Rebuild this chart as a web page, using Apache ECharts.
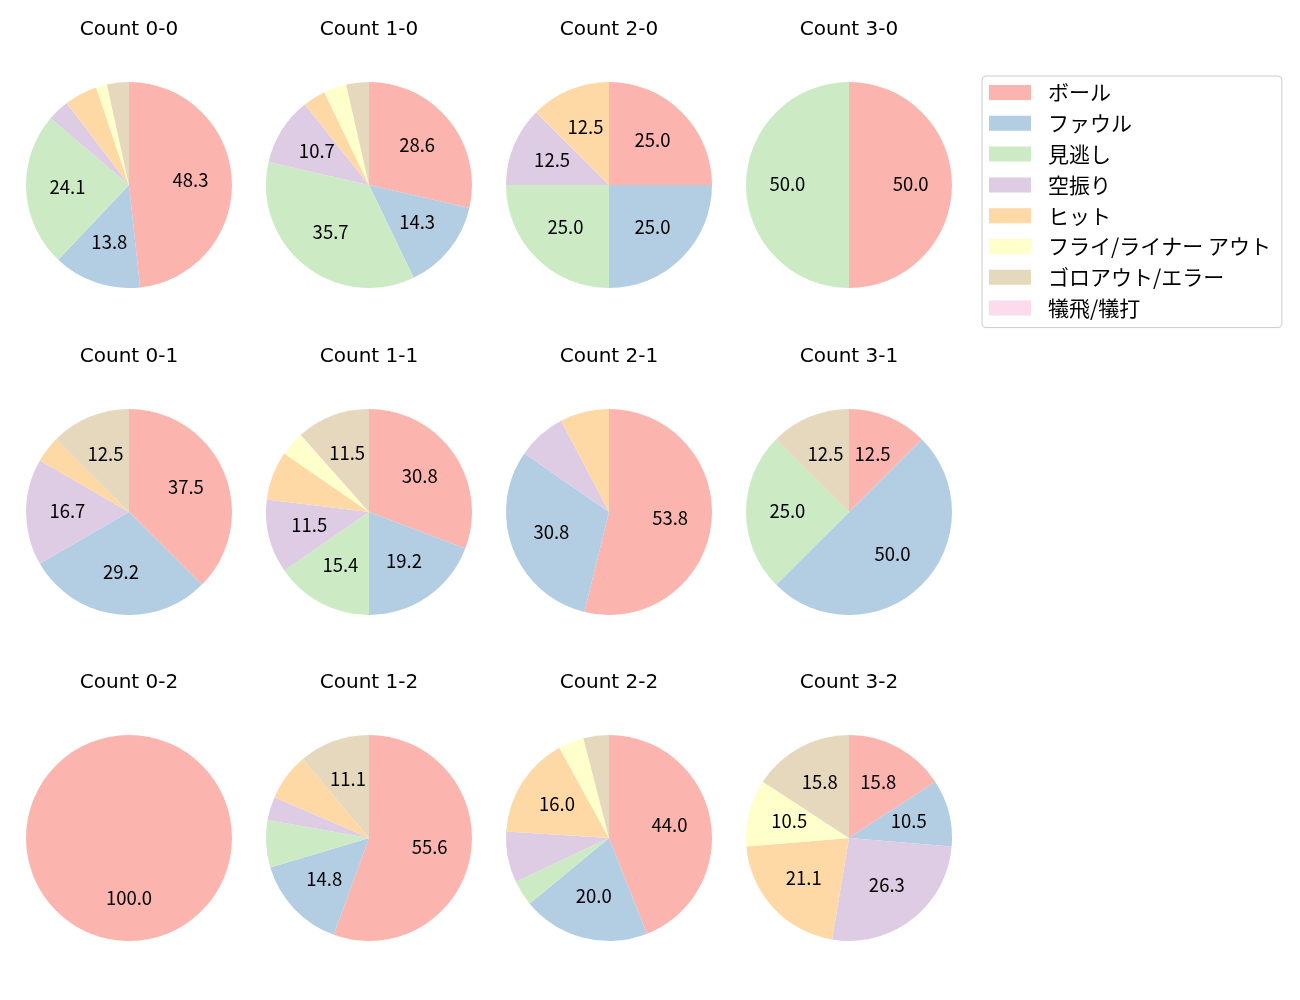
<!DOCTYPE html>
<html><head><meta charset="utf-8">
<script src="https://cdn.jsdelivr.net/npm/echarts@6/dist/echarts.min.js"></script>
<style>html,body{margin:0;padding:0;background:#fff}#c{width:1300px;height:1000px}</style>
</head><body><div id="c"></div>
<script>
const categories = ['ボール','ファウル','見逃し','空振り','ヒット','フライ/ライナー アウト','ゴロアウト/エラー','犠飛/犠打'];
const colors = ['#fbb4ae','#b3cde3','#ccebc5','#decbe4','#fed9a6','#ffffcc','#e5d8bd','#fddaec'];
const titles = ['Count 0-0','Count 1-0','Count 2-0','Count 3-0',
                'Count 0-1','Count 1-1','Count 2-1','Count 3-1',
                'Count 0-2','Count 1-2','Count 2-2','Count 3-2'];
const c00 = [28, 8, 14, 2, 3, 1, 2, 0];
const c10 = [8, 4, 10, 3, 1, 1, 1, 0];
const c20 = [2, 2, 2, 1, 1, 0, 0, 0];
const c30 = [1, 0, 1, 0, 0, 0, 0, 0];
const c01 = [9, 7, 0, 4, 1, 0, 3, 0];
const c11 = [8, 5, 4, 3, 2, 1, 3, 0];
const c21 = [7, 4, 0, 1, 1, 0, 0, 0];
const c31 = [1, 4, 2, 0, 0, 0, 1, 0];
const c02 = [1, 0, 0, 0, 0, 0, 0, 0];
const c12 = [15, 4, 2, 1, 2, 0, 3, 0];
const c22 = [11, 5, 1, 2, 4, 1, 1, 0];
const c32 = [3, 2, 0, 5, 4, 2, 3, 0];
const allCounts = [c00,c10,c20,c30,c01,c11,c21,c31,c02,c12,c22,c32];

const FONT = '"Noto Sans CJK JP", "Noto Sans", sans-serif';
const TFONT = '"DejaVu Sans", sans-serif';
const colX = [129, 369, 609, 849];
const rowY = [185, 512, 838];
const R = 103;

const series = [];
const titleList = [];
allCounts.forEach((vals, i) => {
  const cx = colX[i % 4], cy = rowY[Math.floor(i / 4)];
  const total = vals.reduce((a, b) => a + b, 0);
  const data = vals.map((v, k) => ({name: categories[k], value: v, itemStyle: {color: colors[k]}}));
  titleList.push({
    text: titles[i], left: cx, top: cy - 165, textAlign: 'center', padding: 0,
    textStyle: {fontFamily: TFONT, fontSize: 20, fontWeight: 'normal', color: '#000'}
  });
  series.push({
    type: 'pie', center: [cx, cy], radius: [0, R], startAngle: 90, clockwise: true,
    avoidLabelOverlap: false, silent: true, animation: false,
    itemStyle: {borderWidth: 0}, label: {show: false}, labelLine: {show: false},
    emphasis: {disabled: true}, data: data
  });
  series.push({
    type: 'pie', center: [cx, cy], radius: [14.2, R], startAngle: 90, clockwise: true,
    avoidLabelOverlap: false, silent: true, animation: false, legendHoverLink: false,
    minShowLabelAngle: 0,
    itemStyle: {color: 'rgba(0,0,0,0)', borderWidth: 0},
    label: {
      show: true, position: 'inside', fontFamily: FONT, fontSize: 18.5, color: '#000',
      offset: [0, -1.5],
      formatter: p => { const pct = p.value / total * 100; return pct >= 10 ? pct.toFixed(1) : ''; }
    },
    labelLine: {show: false}, emphasis: {disabled: true},
    data: vals.map((v, k) => ({name: categories[k], value: v, itemStyle: {color: 'rgba(0,0,0,0)'}}))
  });
});

const chart = echarts.init(document.getElementById('c'), null, {renderer: 'canvas'});
chart.setOption({
  animation: false,
  title: titleList,
  legend: {
    orient: 'vertical', left: 982, top: 76, selectedMode: false,
    padding: [6, 11, 9, 7], itemGap: 9.8, itemWidth: 42, itemHeight: 15, icon: 'rect',
    borderColor: '#cccccc', borderWidth: 1, borderRadius: 4,
    textStyle: {fontFamily: FONT, fontSize: 21, color: '#000', padding: [0, 0, 0, 12]},
    data: categories.map((n, k) => ({name: n, itemStyle: {color: colors[k]}}))
  },
  series: series
});
</script></body></html>
